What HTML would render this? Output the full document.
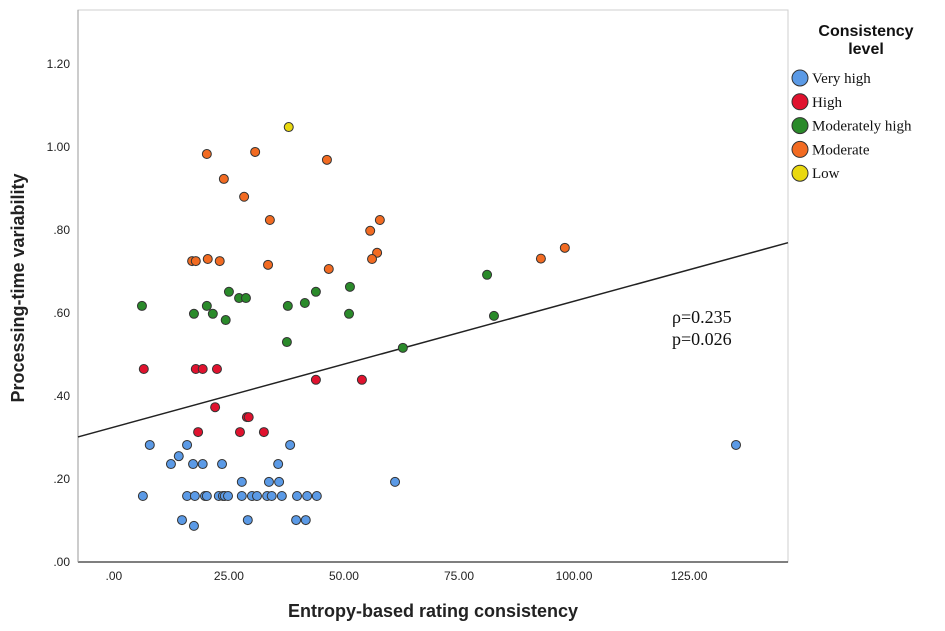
<!DOCTYPE html>
<html><head><meta charset="utf-8"><style>
body{margin:0;background:#fff;width:945px;height:631px;overflow:hidden}
svg{display:block}
</style></head><body>
<svg id="c" width="945" height="631" xmlns="http://www.w3.org/2000/svg"></svg>
<script>
const xTicks=[0,25,50,75,100,125];
const xTickLabels=[".00","25.00","50.00","75.00","100.00","125.00"];
const yTicks=[0,0.2,0.4,0.6,0.8,1.0,1.2];
const yTickLabels=[".00",".20",".40",".60",".80","1.00","1.20"];
const groups=["Very high","High","Moderately high","Moderate","Low"];
const groupColors=["#5b9ae6","#e0122e","#2a8a2a","#f26b22","#e9d80f"];
const veryHighX=[7.8,15.9,14.1,12.4,17.2,19.3,23.5,35.7,38.3,27.8,33.7,35.9,61.1,6.3,15.9,17.6,19.8,20.2,22.8,23.7,24.1,24.8,27.8,30,31.1,33.3,34.3,36.5,39.8,42,44.1,14.8,17.4,29.1,39.6,41.7,135.2];
const veryHighY=[0.282,0.282,0.255,0.236,0.236,0.236,0.236,0.236,0.282,0.193,0.193,0.193,0.193,0.159,0.159,0.159,0.159,0.159,0.159,0.159,0.159,0.159,0.159,0.159,0.159,0.159,0.159,0.159,0.159,0.159,0.159,0.101,0.087,0.101,0.101,0.101,0.282];
const highX=[22,28.9,29.3,18.3,27.4,32.6,43.9,53.9,6.5,17.8,19.3,22.4];
const highY=[0.373,0.349,0.349,0.313,0.313,0.313,0.439,0.439,0.465,0.465,0.465,0.465];
const modHighX=[6.1,17.4,20.2,21.5,24.3,25,27.2,28.7,37.8,37.6,41.5,43.9,51.3,51.1,62.8,81.1,82.6];
const modHighY=[0.617,0.598,0.617,0.598,0.583,0.651,0.636,0.636,0.617,0.53,0.624,0.651,0.663,0.598,0.516,0.692,0.593];
const moderateX=[20.2,30.7,46.3,23.9,28.3,33.9,57.8,55.7,57.2,56.1,17,17.8,20.4,23,33.5,46.7,92.8,98];
const moderateY=[0.983,0.988,0.969,0.923,0.88,0.824,0.824,0.798,0.745,0.730,0.725,0.725,0.730,0.725,0.716,0.706,0.731,0.757];
const lowX=[38];
const lowY=[1.048];
const fitCoef=[0.325,0.003033];
const xDomain=[-7.8,146.5], yDomain=[0,1.33];
const L=78,R=788,T=10,B=562;
const sx=v=>L+(v-xDomain[0])/(xDomain[1]-xDomain[0])*(R-L);
const sy=v=>B-(v-yDomain[0])/(yDomain[1]-yDomain[0])*(B-T);
const NS="http://www.w3.org/2000/svg", svg=document.getElementById('c');
function mk(t,a,txt){const e=document.createElementNS(NS,t);for(const k in a)e.setAttribute(k,a[k]);if(txt!==undefined)e.textContent=txt;svg.appendChild(e);return e;}
let e=mk('rect',{x:L,y:T,width:R-L,height:B-T,fill:'#fff',stroke:'#cfcfcf'});


e=mk('line',{x1:L,y1:B,x2:R,y2:B,stroke:'#555','stroke-width':1.5});


e=mk('line',{x1:L,y1:T,x2:L,y2:B,stroke:'#999','stroke-width':1});


xTicks.forEach((v,i)=>{e=mk('text',{x:sx(v),y:580,'text-anchor':'middle','font-family':'Liberation Sans,sans-serif','font-size':12,fill:'#222'},xTickLabels[i]);

});
yTicks.forEach((v,i)=>{e=mk('text',{x:70,y:sy(v)+4,'text-anchor':'end','font-family':'Liberation Sans,sans-serif','font-size':12,fill:'#222'},yTickLabels[i]);

});
e=mk('text',{x:433,y:617,'text-anchor':'middle','font-family':'Liberation Sans,sans-serif','font-size':18,'font-weight':'bold',fill:'#222'},'Entropy-based rating consistency');


e=mk('text',{x:0,y:0,'text-anchor':'middle','font-family':'Liberation Sans,sans-serif','font-size':18,'font-weight':'bold',fill:'#222',transform:'translate(24,288) rotate(-90)'},'Processing-time variability');


const fx0=xDomain[0],fx1=xDomain[1];
e=mk('line',{x1:sx(fx0),y1:sy(fitCoef[0]+fitCoef[1]*fx0),x2:sx(fx1),y2:sy(fitCoef[0]+fitCoef[1]*fx1),stroke:'#222','stroke-width':1.5});


const series=[[veryHighX,veryHighY],[highX,highY],[modHighX,modHighY],[moderateX,moderateY],[lowX,lowY]];
series.forEach((s,g)=>{s[0].forEach((x,i)=>{e=mk('circle',{cx:sx(x),cy:sy(s[1][i]),r:4.5,fill:groupColors[g],stroke:'#333','stroke-width':1});

});});
e=mk('text',{x:672,y:323,'font-family':'Liberation Serif,serif','font-size':18,fill:'#111'},'ρ=0.235');


e=mk('text',{x:672,y:345,'font-family':'Liberation Serif,serif','font-size':18,fill:'#111'},'p=0.026');


e=mk('text',{x:866,y:36,'text-anchor':'middle','font-family':'Liberation Sans,sans-serif','font-size':16,'font-weight':'bold',fill:'#111'},'Consistency');


e=mk('text',{x:866,y:54,'text-anchor':'middle','font-family':'Liberation Sans,sans-serif','font-size':16,'font-weight':'bold',fill:'#111'},'level');


groups.forEach((g,i)=>{const y=78+i*23.8;
e=mk('circle',{cx:800,cy:y,r:8,fill:groupColors[i],stroke:'#333','stroke-width':1});


e=mk('text',{x:812,y:y+5,'font-family':'Liberation Serif,serif','font-size':15,fill:'#111'},g);

});
</script>
</body></html>
